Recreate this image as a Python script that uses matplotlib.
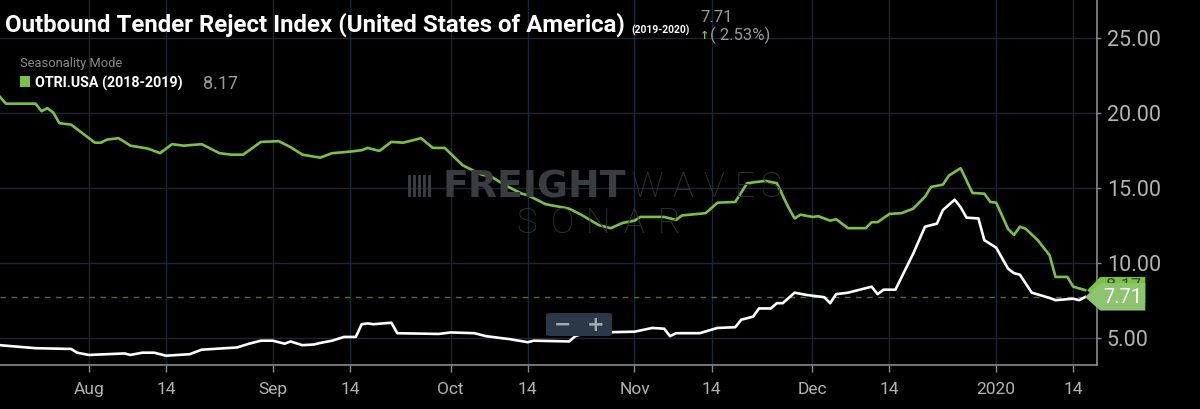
"""
Outbound Tender Reject Index - seasonality chart (2019-2020 vs 2018-2019)
"""
import matplotlib
matplotlib.use("Agg")
import matplotlib.pyplot as plt
import matplotlib.transforms as mtransforms
from matplotlib.patches import Polygon, FancyBboxPatch
from matplotlib import font_manager
import pandas as pd

# --- data ---
current_dates = [
    "2019-07-17", "2019-07-23", "2019-07-29", "2019-07-30", "2019-08-01", "2019-08-07",
    "2019-08-08", "2019-08-10", "2019-08-12", "2019-08-14", "2019-08-18", "2019-08-20",
    "2019-08-22", "2019-08-26", "2019-08-28", "2019-08-30", "2019-09-01", "2019-09-03",
    "2019-09-04", "2019-09-06", "2019-09-08", "2019-09-09", "2019-09-11", "2019-09-13",
    "2019-09-15", "2019-09-16", "2019-09-17", "2019-09-18", "2019-09-21", "2019-09-22",
    "2019-09-29", "2019-10-01", "2019-10-05", "2019-10-07", "2019-10-11", "2019-10-14",
    "2019-10-15", "2019-10-21", "2019-10-22", "2019-10-24", "2019-10-26", "2019-11-01",
    "2019-11-04", "2019-11-06", "2019-11-07", "2019-11-08", "2019-11-12", "2019-11-15",
    "2019-11-18", "2019-11-19", "2019-11-21", "2019-11-22", "2019-11-24", "2019-11-25",
    "2019-11-26", "2019-11-28", "2019-11-30", "2019-12-01", "2019-12-03", "2019-12-04",
    "2019-12-05", "2019-12-07", "2019-12-09", "2019-12-11", "2019-12-12", "2019-12-13",
    "2019-12-15", "2019-12-16", "2019-12-18", "2019-12-20", "2019-12-22", "2019-12-23",
    "2019-12-25", "2019-12-26", "2019-12-27", "2019-12-29", "2019-12-30", "2020-01-01",
    "2020-01-03", "2020-01-04", "2020-01-05", "2020-01-07", "2020-01-10", "2020-01-11",
    "2020-01-14", "2020-01-15", "2020-01-16",
]
current_values = [
    4.5, 4.3, 4.25, 4.0, 3.85, 3.95,
    3.85, 4.0, 4.0, 3.8, 3.9, 4.2,
    4.25, 4.35, 4.6, 4.8, 4.8, 4.6,
    4.75, 4.5, 4.55, 4.65, 4.8, 5.05,
    5.05, 5.9, 5.95, 5.9, 6.0, 5.3,
    5.25, 5.35, 5.3, 5.1, 4.9, 4.7,
    4.8, 4.75, 5.1, 5.35, 5.35, 5.4,
    5.65, 5.6, 5.1, 5.3, 5.3, 5.65,
    5.7, 6.2, 6.4, 6.95, 6.95, 7.3,
    7.3, 8.0, 7.85, 7.8, 7.7, 7.3,
    7.9, 8.0, 8.2, 8.4, 7.9, 8.2,
    8.2, 9.0, 10.6, 12.4, 12.6, 13.5,
    14.2, 13.7, 13.0, 12.95, 11.5, 11.0,
    9.6, 9.3, 9.2, 8.0, 7.65, 7.5,
    7.6, 7.5, 7.71,
]

prior_dates = [
    "2019-07-17", "2019-07-18", "2019-07-23", "2019-07-24", "2019-07-25", "2019-07-26",
    "2019-07-27", "2019-07-29", "2019-08-02", "2019-08-03", "2019-08-04", "2019-08-06",
    "2019-08-08", "2019-08-11", "2019-08-13", "2019-08-15", "2019-08-17", "2019-08-20",
    "2019-08-21", "2019-08-23", "2019-08-25", "2019-08-27", "2019-08-30", "2019-09-02",
    "2019-09-04", "2019-09-06", "2019-09-09", "2019-09-11", "2019-09-14", "2019-09-16",
    "2019-09-17", "2019-09-19", "2019-09-21", "2019-09-23", "2019-09-26", "2019-09-28",
    "2019-09-30", "2019-10-03", "2019-10-06", "2019-10-08", "2019-10-10", "2019-10-13",
    "2019-10-14", "2019-10-17", "2019-10-21", "2019-10-23", "2019-10-26", "2019-10-28",
    "2019-10-30", "2019-11-01", "2019-11-02", "2019-11-06", "2019-11-08", "2019-11-09",
    "2019-11-13", "2019-11-15", "2019-11-18", "2019-11-20", "2019-11-23", "2019-11-25",
    "2019-11-27", "2019-11-28", "2019-11-29", "2019-12-01", "2019-12-02", "2019-12-04",
    "2019-12-05", "2019-12-07", "2019-12-10", "2019-12-11", "2019-12-12", "2019-12-14",
    "2019-12-16", "2019-12-18", "2019-12-20", "2019-12-21", "2019-12-23", "2019-12-24",
    "2019-12-26", "2019-12-28", "2019-12-30", "2019-12-31", "2020-01-01", "2020-01-03",
    "2020-01-04", "2020-01-05", "2020-01-06", "2020-01-08", "2020-01-10", "2020-01-11",
    "2020-01-13", "2020-01-14", "2020-01-16",
]
prior_values = [
    21.05, 20.6, 20.6, 20.1, 20.3, 20.0,
    19.3, 19.2, 18.0, 18.0, 18.2, 18.3,
    17.8, 17.6, 17.3, 17.9, 17.8, 17.9,
    17.7, 17.3, 17.2, 17.2, 18.05, 18.1,
    17.7, 17.2, 17.0, 17.3, 17.4, 17.5,
    17.65, 17.45, 18.05, 18.0, 18.3, 17.65,
    17.65, 16.5, 15.9, 15.7, 15.2, 14.6,
    14.5, 13.9, 13.6, 13.2, 12.5, 12.3,
    12.65, 12.8, 13.05, 13.05, 12.85, 13.15,
    13.3, 14.0, 14.05, 15.3, 15.45, 15.3,
    13.65, 12.95, 13.2, 13.05, 13.1, 12.8,
    12.9, 12.3, 12.3, 12.7, 12.7, 13.25,
    13.3, 13.6, 14.4, 15.05, 15.2, 15.8,
    16.3, 14.65, 14.6, 14.05, 14.0, 12.25,
    11.85, 12.4, 12.25, 11.5, 10.5, 9.05,
    9.05, 8.4, 8.17,
]

tick_dates = ["2019-08-01", "2019-08-14", "2019-09-01", "2019-09-14", "2019-10-01",
              "2019-10-14", "2019-11-01", "2019-11-14", "2019-12-01", "2019-12-14",
              "2020-01-01", "2020-01-14"]
tick_labels = ["Aug", "14", "Sep", "14", "Oct", "14", "Nov", "14", "Dec", "14", "2020", "14"]
y_ticks = [5, 10, 15, 20, 25]

last_current = current_values[-1]
last_prior = prior_values[-1]
change_pct = 2.53

# --- fonts ---
installed = {f.name for f in font_manager.fontManager.ttflist}
narrow = "Liberation Sans Narrow" if "Liberation Sans Narrow" in installed else "Roboto"
light = "Roboto" if "Roboto" in installed else "DejaVu Sans"

W, H = 1200, 409
GREEN = "#7cc242"
GRID = "#1a2632"
AXIS = "#8a8a8a"
LABEL = "#b4b4b4"

fig = plt.figure(figsize=(W / 100, H / 100), dpi=100, facecolor="black")
ax = fig.add_axes([0, 44 / H, 1097 / W, 365 / H], facecolor="black")

cur_x = pd.to_datetime(current_dates)
pri_x = pd.to_datetime(prior_dates)

aug1 = pd.Timestamp("2019-08-01")
ax.set_xlim(aug1 - pd.Timedelta(days=15), aug1 + pd.Timedelta(days=170))
ax.set_ylim(3.18, 27.51)

ax.plot(pri_x, prior_values, color=GREEN, lw=1.9, solid_joinstyle="round", zorder=3)
ax.plot(cur_x, current_values, color="white", lw=1.9, solid_joinstyle="round", zorder=4)
ax.axhline(last_current, color="#4d7132", lw=1.0, ls=(0, (4, 4)), zorder=2)

# grid / axes
ax.set_xticks(pd.to_datetime(tick_dates))
ax.set_xticklabels(tick_labels)
ax.set_yticks(y_ticks)
ax.set_yticklabels([f"{v:.2f}" for v in y_ticks])
ax.grid(True, color=GRID, lw=1.0, zorder=0)
ax.yaxis.tick_right()
for side in ["left", "top"]:
    ax.spines[side].set_visible(False)
for side in ["right", "bottom"]:
    ax.spines[side].set_color(AXIS)
    ax.spines[side].set_linewidth(1.2)
ax.tick_params(axis="x", colors=AXIS, length=5, width=1, pad=7, labelsize=12.5, labelcolor=LABEL)
ax.tick_params(axis="y", colors=AXIS, length=3, width=1, pad=4, labelsize=15.5, labelcolor=LABEL)
for lbl in ax.get_xticklabels() + ax.get_yticklabels():
    lbl.set_fontfamily(light)

# value flags on the right
tr = mtransforms.blended_transform_factory(ax.transAxes, ax.transData)
back = Polygon([(0.991, last_prior), (1.003, last_prior + 0.88), (1.044, last_prior + 0.88),
                (1.044, last_prior - 0.85), (1.003, last_prior - 0.85)],
               closed=True, transform=tr, facecolor=GREEN, edgecolor="none",
               clip_on=False, zorder=6)
ax.add_patch(back)
ax.text(1.024, last_prior + 0.3, f"{last_prior:.2f}", transform=tr, ha="center", va="center",
        fontsize=13, color="#3d4a35", family=light, clip_on=False, zorder=6)
front = Polygon([(0.989, last_current), (1.003, last_current + 0.93), (1.044, last_current + 0.93),
                 (1.044, last_current - 0.9), (1.003, last_current - 0.9)],
                closed=True, transform=tr, facecolor="#8dc46f", edgecolor="none",
                clip_on=False, zorder=7)
ax.add_patch(front)
ax.text(1.0235, last_current, f"{last_current:.2f}", transform=tr, ha="center", va="center",
        fontsize=14.5, color="white", family=light, clip_on=False, zorder=8)


def fx(x):
    return x / W


def fy(y):
    return 1 - y / H


# watermark
wm = "#3a3d40"
for bx in [408, 413, 418, 423, 428]:
    fig.patches.append(plt.Rectangle((fx(bx), fy(197)), fx(2.5), 22 / H,
                                     transform=fig.transFigure, facecolor=wm, edgecolor="none"))
t_freight = fig.text(fx(443), fy(197), "FREIGHT", color=wm, fontsize=24, fontweight="heavy",
                     ha="left", va="baseline", family="DejaVu Sans")
for i, ch in enumerate("WAVES"):
    pos = [648, 683, 714, 744, 771][i]
    fig.text(fx(pos), fy(197), ch, color="#303336", fontsize=25, fontweight="light",
             ha="center", va="baseline", family=light)
for i, ch in enumerate("SONAR"):
    fig.text(fx(527 + i * 35.5), fy(233), ch, color="#303336", fontsize=25, fontweight="light",
             ha="center", va="baseline", family=light)

# zoom control
btn = FancyBboxPatch((fx(546), fy(336)), fx(66), 23 / H, boxstyle="round,pad=0,rounding_size=0.004",
                     transform=fig.transFigure, facecolor="#2a3847", edgecolor="none", zorder=5)
fig.patches.append(btn)
fig.text(fx(563), fy(325), "\u2212", color="#a0aab4", fontsize=15, fontweight="bold",
         ha="center", va="center", zorder=6)
fig.text(fx(596), fy(325), "+", color="#a0aab4", fontsize=15, fontweight="bold",
         ha="center", va="center", zorder=6)
fig.lines.append(plt.Line2D([fx(581), fx(581)], [fy(317), fy(332)], transform=fig.transFigure,
                            color="#4a5866", lw=1))

# header texts
t_title = fig.text(fx(5), fy(32), "Outbound Tender Reject Index (United States of America)",
                   color="white", fontsize=19, fontweight="bold", family=narrow,
                   va="baseline", ha="left")
t_years = fig.text(fx(631), fy(34), "(2019-2020)", color="white", fontsize=7, fontweight="bold",
                   family=narrow, va="baseline", ha="left")
fig.text(fx(700), fy(22), f"{last_current:.2f}", color="#9a9a9a", fontsize=12, family=light,
         va="baseline", ha="left")
fig.text(fx(700), fy(39), "\u2191", color=GREEN, fontsize=8, fontweight="bold",
         family="DejaVu Sans", va="baseline", ha="left")
fig.text(fx(710), fy(40), f"( {change_pct:.2f}%)", color="#9a9a9a", fontsize=12, family=light,
         va="baseline", ha="left")
t_mode = fig.text(fx(20), fy(67), "Seasonality Mode", color="#8c8c8c", fontsize=9.5,
                  family=narrow, va="baseline", ha="left")
fig.patches.append(plt.Rectangle((fx(20), fy(87)), fx(10), 11 / H, transform=fig.transFigure,
                                 facecolor=GREEN, edgecolor="none"))
t_series = fig.text(fx(35), fy(88), "OTRI.USA (2018-2019)", color="white", fontsize=11.5,
                    fontweight="bold", family=narrow, va="baseline", ha="left")
fig.text(fx(203), fy(89), f"{last_prior:.2f}", color="#9a9a9a", fontsize=13, family=light,
         va="baseline", ha="left")

# shrink texts to the widths they take in the original
fig.canvas.draw()
renderer = fig.canvas.get_renderer()
for txt, target in [(t_title, 623), (t_years, 58), (t_mode, 103), (t_series, 148), (t_freight, 184)]:
    w = txt.get_window_extent(renderer).width
    txt.set_fontsize(txt.get_fontsize() * target / w)

fig.savefig("out.png", dpi=100, facecolor="black")
